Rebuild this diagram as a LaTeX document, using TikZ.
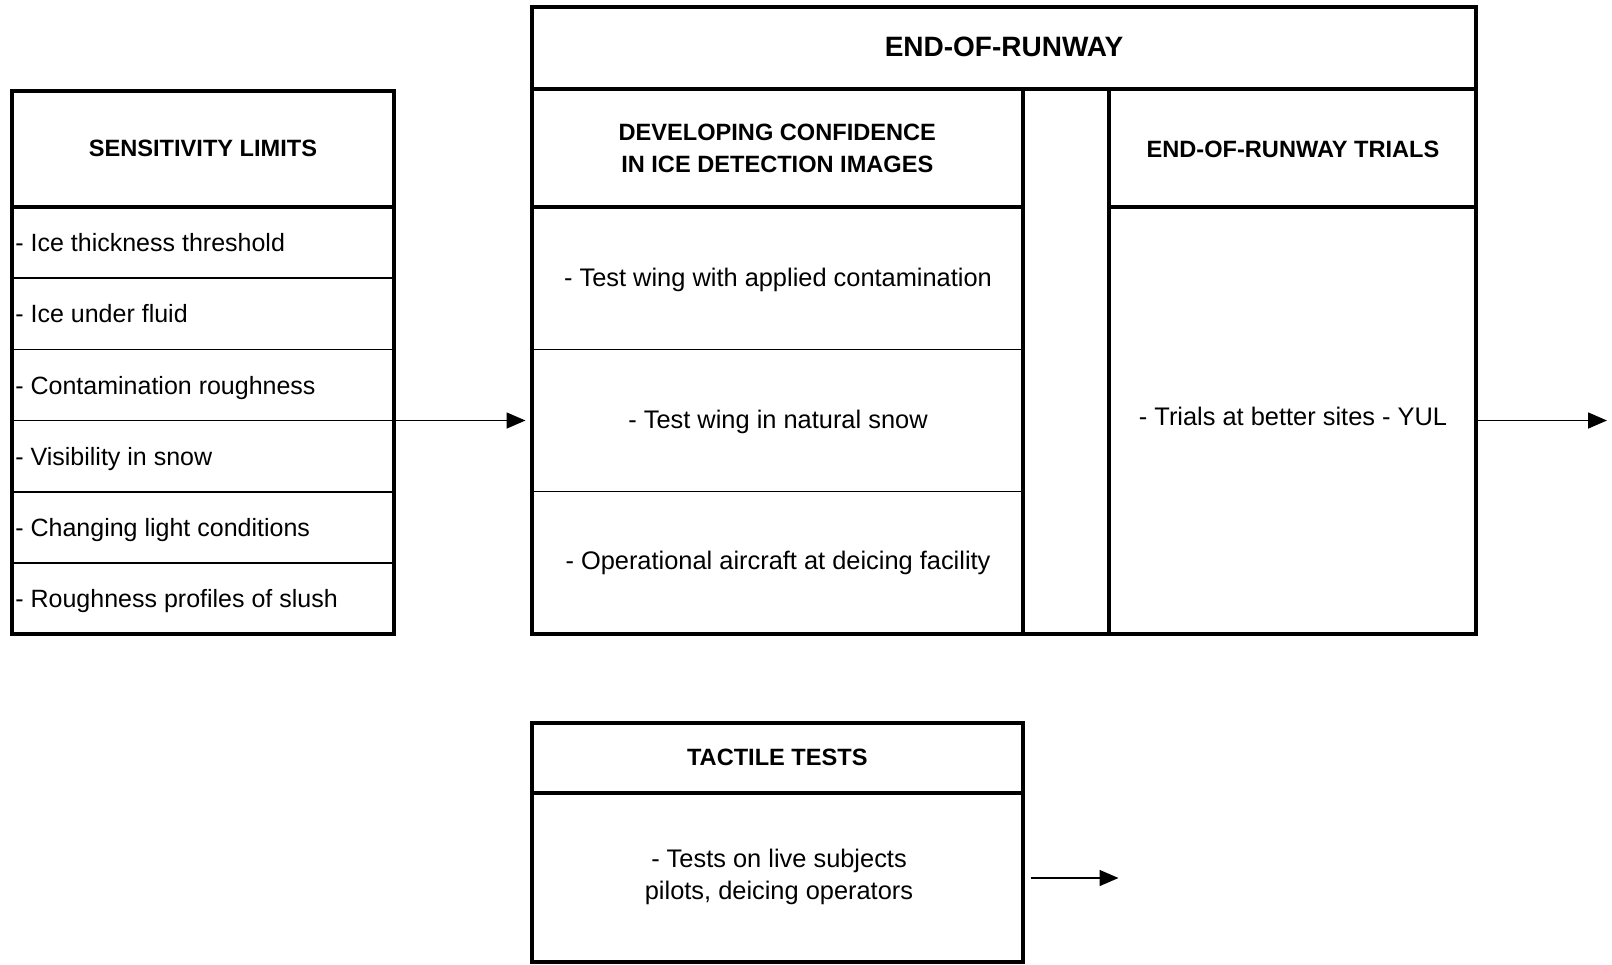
\documentclass[tikz,border=0pt]{standalone}
\usepackage{fontspec}
\setmainfont{Liberation Sans}
\usetikzlibrary{fit,arrows.meta}
\begin{document}
\begin{tikzpicture}[x=0.5pt,y=-0.5pt,
  thickbox/.style={draw, line width=2pt, inner sep=0pt},
  thickline/.style={line width=2pt},
  thinline/.style={line width=0.7pt},
  hdr/.style={font=\bfseries\fontsize{11.8}{16}\selectfont, align=center, inner sep=0pt},
  ttl/.style={font=\bfseries\fontsize{14}{17}\selectfont, align=center, inner sep=0pt},
  txt/.style={font=\fontsize{12.7}{16}\selectfont, align=center, inner sep=0pt},
  line/.style={font=\fontsize{12.7}{16}\selectfont, anchor=base, inner sep=0pt},
  item/.style={font=\fontsize{12.5}{16}\selectfont, anchor=base west, inner sep=0pt},
  arr/.style={-{Triangle[length=9.5pt,width=8pt]}, line width=0.8pt}]
\useasboundingbox (0,0) rectangle (1612,964);

% ---- Sensitivity limits box
\coordinate (s1) at (12.3,90.5);
\coordinate (s2) at (393.8,634.3);
\node[thickbox, fit=(s1)(s2)] (sens) {};
\draw[thickline] (12.3,206.6) -- (393.8,206.6);
\foreach \yy in {277.9,349.2,420.5,491.8,563.1}
  \draw[thinline] (12.3,\yy) -- (393.8,\yy);
\node[hdr] (senst) at (203,148.5) {SENSITIVITY LIMITS};
\node[item] (i1) at (15,251.5) {- Ice thickness threshold};
\node[item] (i2) at (15,322.5) {- Ice under fluid};
\node[item] (i3) at (15,394) {- Contamination roughness};
\node[item] (i4) at (15,465) {- Visibility in snow};
\node[item] (i5) at (15,536.5) {- Changing light conditions};
\node[item] (i6) at (15,607.5) {- Roughness profiles of slush};

% ---- End-of-runway box
\coordinate (e1) at (531.5,7.2);
\coordinate (e2) at (1476.3,634.3);
\node[thickbox, fit=(e1)(e2)] (eor) {};
\draw[thickline] (531.5,89.4) -- (1476.3,89.4);
\draw[thickline] (1023,89.4) -- (1023,634.3);
\draw[thickline] (1108.5,89.4) -- (1108.5,634.3);
\draw[thickline] (531.5,206.6) -- (1023,206.6);
\draw[thickline] (1108.5,206.6) -- (1476.3,206.6);
\draw[thinline] (531.5,349.6) -- (1023,349.6);
\draw[thinline] (531.5,491.4) -- (1023,491.4);
\node[ttl] (eort) at (1004,47) {END-OF-RUNWAY};
\node[hdr] (devt) at (777.3,148.5) {DEVELOPING CONFIDENCE\\IN ICE DETECTION IMAGES};
\node[line] (m1) at (778,286) {- Test wing with applied contamination};
\node[line] (m2) at (778,428) {- Test wing in natural snow};
\node[line] (m3) at (778,569.5) {- Operational aircraft at deicing facility};
\node[hdr] (trt) at (1293,149) {END-OF-RUNWAY TRIALS};
\node[line] (tr1) at (1293,425.5) {- Trials at better sites - YUL};

% ---- Tactile tests box
\coordinate (t1) at (531.5,722.7);
\coordinate (t2) at (1023,962.3);
\node[thickbox, fit=(t1)(t2)] (tact) {};
\draw[thickline] (531.5,792.7) -- (1023,792.7);
\node[hdr] (tactt) at (777.3,757.7) {TACTILE TESTS};
\node[txt] (tact1) at (779,877) {- Tests on live subjects\\pilots, deicing operators};

% ---- Arrows
\coordinate (a1) at (525.5,420.5);
\coordinate (a2) at (1607,420.5);
\coordinate (a3s) at (1031,878);
\coordinate (a3e) at (1118.5,878);
\draw[arr] (a1 -| sens.east) -- (a1);
\draw[arr] (a2 -| eor.east) -- (a2);
\draw[arr] (a3s) -- (a3e);
\end{tikzpicture}
\end{document}
